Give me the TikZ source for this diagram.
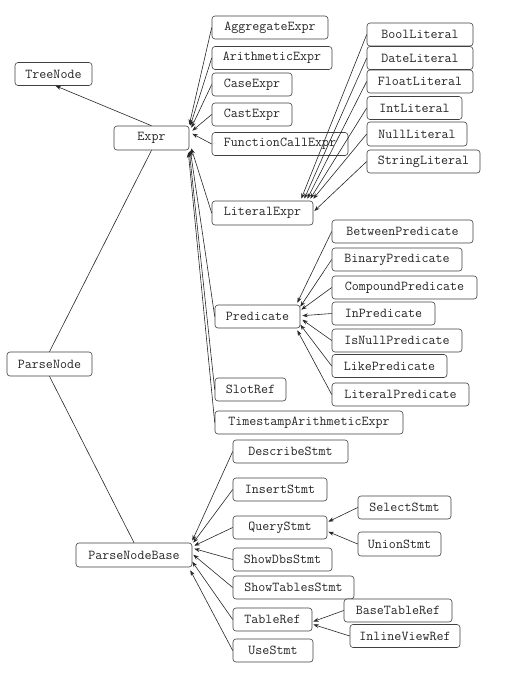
\documentclass[tikz,border=0pt]{standalone}
\usepackage{fontspec}
\usetikzlibrary{arrows.meta}
\begin{document}
\begin{tikzpicture}[x=1pt,y=-1pt,
  box/.style={draw=black!75,line width=0.6pt,rounded corners=3pt,fill=white,inner sep=0pt,
    minimum height=23pt,text=black!85,font=\ttfamily\fontsize{13.6}{15}\selectfont},
  inh/.style={draw=black!85,line width=0.6pt,-{Stealth[length=5.5pt,width=4pt]}},
  plain/.style={draw=black!85,line width=0.6pt}]
\useasboundingbox (0,0) rectangle (508,678);
% nodes
\node[box,minimum width=77pt] (treenode) at (53.5,74) {TreeNode};
\node[box,minimum width=75pt,minimum height=24pt] (expr) at (151.5,138) {Expr};
\node[box,minimum width=85pt,minimum height=24pt] (parsenode) at (49.5,364) {ParseNode};
\node[box,minimum width=116pt,minimum height=24pt] (parsenodebase) at (134,555) {ParseNodeBase};
% Expr children
\node[box,minimum width=116pt] (aggregateexpr) at (270,27.5) {AggregateExpr};
\node[box,minimum width=120pt] (arithmeticexpr) at (272,58) {ArithmeticExpr};
\node[box,minimum width=80pt] (caseexpr) at (252,84.5) {CaseExpr};
\node[box,minimum width=80pt] (castexpr) at (252,114.5) {CastExpr};
\node[box,minimum width=136pt] (functioncallexpr) at (280,144) {FunctionCallExpr};
\node[box,minimum width=101pt,minimum height=24pt] (literalexpr) at (262.5,213) {LiteralExpr};
\node[box,minimum width=85pt] (predicate) at (257.5,316.5) {Predicate};
\node[box,minimum width=71pt] (slotref) at (250.5,389.5) {SlotRef};
\node[box,minimum width=188pt] (timestamp) at (309,422.5) {TimestampArithmeticExpr};
% Literal children
\node[box,minimum width=106pt] (boolliteral) at (420,34.5) {BoolLiteral};
\node[box,minimum width=106pt] (dateliteral) at (420,58) {DateLiteral};
\node[box,minimum width=106pt] (floatliteral) at (420,81.5) {FloatLiteral};
\node[box,minimum width=95pt] (intliteral) at (414.5,108) {IntLiteral};
\node[box,minimum width=100pt,minimum height=24pt] (nullliteral) at (417,134) {NullLiteral};
\node[box,minimum width=113pt] (stringliteral) at (423.5,161.5) {StringLiteral};
% Predicate children
\node[box,minimum width=141pt] (betweenpred) at (402.5,231.5) {BetweenPredicate};
\node[box,minimum width=130pt] (binarypred) at (397,259.5) {BinaryPredicate};
\node[box,minimum width=145pt] (compoundpred) at (404.5,287.5) {CompoundPredicate};
\node[box,minimum width=103pt] (inpred) at (383.5,313.5) {InPredicate};
\node[box,minimum width=130pt] (isnullpred) at (397,340.5) {IsNullPredicate};
\node[box,minimum width=115pt] (likepred) at (389.5,366) {LikePredicate};
\node[box,minimum width=137pt] (literalpred) at (400.5,394.5) {LiteralPredicate};
% ParseNodeBase children
\node[box,minimum width=115pt] (describestmt) at (290.5,451.5) {DescribeStmt};
\node[box,minimum width=94pt] (insertstmt) at (280,489.5) {InsertStmt};
\node[box,minimum width=94pt] (querystmt) at (280,527.5) {QueryStmt};
\node[box,minimum width=99pt] (showdbsstmt) at (282.5,559.5) {ShowDbsStmt};
\node[box,minimum width=121pt] (showtablesstmt) at (293.5,587.5) {ShowTablesStmt};
\node[box,minimum width=79pt] (tableref) at (272.5,619.5) {TableRef};
\node[box,minimum width=80pt] (usestmt) at (273,650.5) {UseStmt};
\node[box,minimum width=93pt] (selectstmt) at (404.5,507.5) {SelectStmt};
\node[box,minimum width=83pt,minimum height=24pt] (unionstmt) at (399.5,544) {UnionStmt};
\node[box,minimum width=110pt] (inlineviewref) at (405,636) {InlineViewRef};
\node[box,minimum width=108pt] (basetableref) at (398,610.5) {BaseTableRef};
% connectors
\draw[inh] (expr.north) -- ([xshift=2pt]treenode.south);
\draw[plain] (expr.south) -- (parsenode.north);
\draw[plain] (parsenodebase.north) -- (parsenode.south);
% Expr
\draw[inh] (aggregateexpr.west) -- ([yshift=1pt]expr.north east);
\draw[inh] (arithmeticexpr.west) -- ([xshift=1pt,yshift=0pt]expr.north east);
\draw[inh] (caseexpr.west) -- ([xshift=2pt,yshift=-2pt]expr.north east);
\draw[inh] (castexpr.west) -- ([xshift=3pt,yshift=-5pt]expr.north east);
\draw[inh] (functioncallexpr.west) -- ([xshift=3pt,yshift=-8pt]expr.north east);
\draw[inh] (literalexpr.west) -- ([xshift=2pt,yshift=2pt]expr.south east);
\draw[inh] (predicate.west) -- ([xshift=1pt,yshift=0pt]expr.south east);
\draw[inh] (slotref.west) -- ([xshift=0pt,yshift=-1pt]expr.south east);
\draw[inh] (timestamp.west) -- ([xshift=-1pt,yshift=-2pt]expr.south east);
% LiteralExpr
\draw[inh] (boolliteral.west) -- ([xshift=-12pt,yshift=2pt]literalexpr.north east);
\draw[inh] (dateliteral.west) -- ([xshift=-9pt,yshift=2pt]literalexpr.north east);
\draw[inh] (floatliteral.west) -- ([xshift=-6pt,yshift=2pt]literalexpr.north east);
\draw[inh] (intliteral.west) -- ([xshift=-3pt,yshift=2pt]literalexpr.north east);
\draw[inh] (nullliteral.west) -- ([xshift=0pt,yshift=2pt]literalexpr.north east);
\draw[inh] (stringliteral.west) -- ([xshift=1pt,yshift=2pt]literalexpr.east);
% Predicate
\draw[inh] (betweenpred.west) -- ([xshift=-3pt,yshift=2pt]predicate.north east);
\draw[inh] (binarypred.west) -- ([xshift=0pt,yshift=-2pt]predicate.north east);
\draw[inh] (compoundpred.west) -- ([xshift=1pt,yshift=-5pt]predicate.north east);
\draw[inh] (inpred.west) -- ([xshift=2pt,yshift=-11pt]predicate.north east);
\draw[inh] (isnullpred.west) -- ([xshift=2pt,yshift=-15pt]predicate.north east);
\draw[inh] (likepred.west) -- ([xshift=0pt,yshift=-20pt]predicate.north east);
\draw[inh] (literalpred.west) -- ([xshift=-3pt,yshift=-2pt]predicate.south east);
% ParseNodeBase
\draw[inh] (describestmt.west) -- ([xshift=0pt,yshift=2pt]parsenodebase.north east);
\draw[inh] (insertstmt.west) -- ([xshift=1pt,yshift=0pt]parsenodebase.north east);
\draw[inh] (querystmt.west) -- ([xshift=2pt,yshift=-3pt]parsenodebase.north east);
\draw[inh] (showdbsstmt.west) -- ([xshift=2pt,yshift=-6pt]parsenodebase.north east);
\draw[inh] (showtablesstmt.west) -- ([xshift=1pt,yshift=-12pt]parsenodebase.north east);
\draw[inh] (tableref.west) -- ([xshift=0pt,yshift=-19pt]parsenodebase.north east);
\draw[inh] (usestmt.west) -- ([xshift=-2pt,yshift=-3pt]parsenodebase.south east);
% QueryStmt, TableRef
\draw[inh] (selectstmt.west) -- ([xshift=1pt,yshift=-6pt]querystmt.north east);
\draw[inh] (unionstmt.west) -- ([xshift=1pt,yshift=-16pt]querystmt.north east);
\draw[inh] (basetableref.west) -- ([xshift=1pt,yshift=-2pt]tableref.east);
\draw[inh] (inlineviewref.west) -- ([xshift=1pt,yshift=-5pt]tableref.east);
\end{tikzpicture}
\end{document}
